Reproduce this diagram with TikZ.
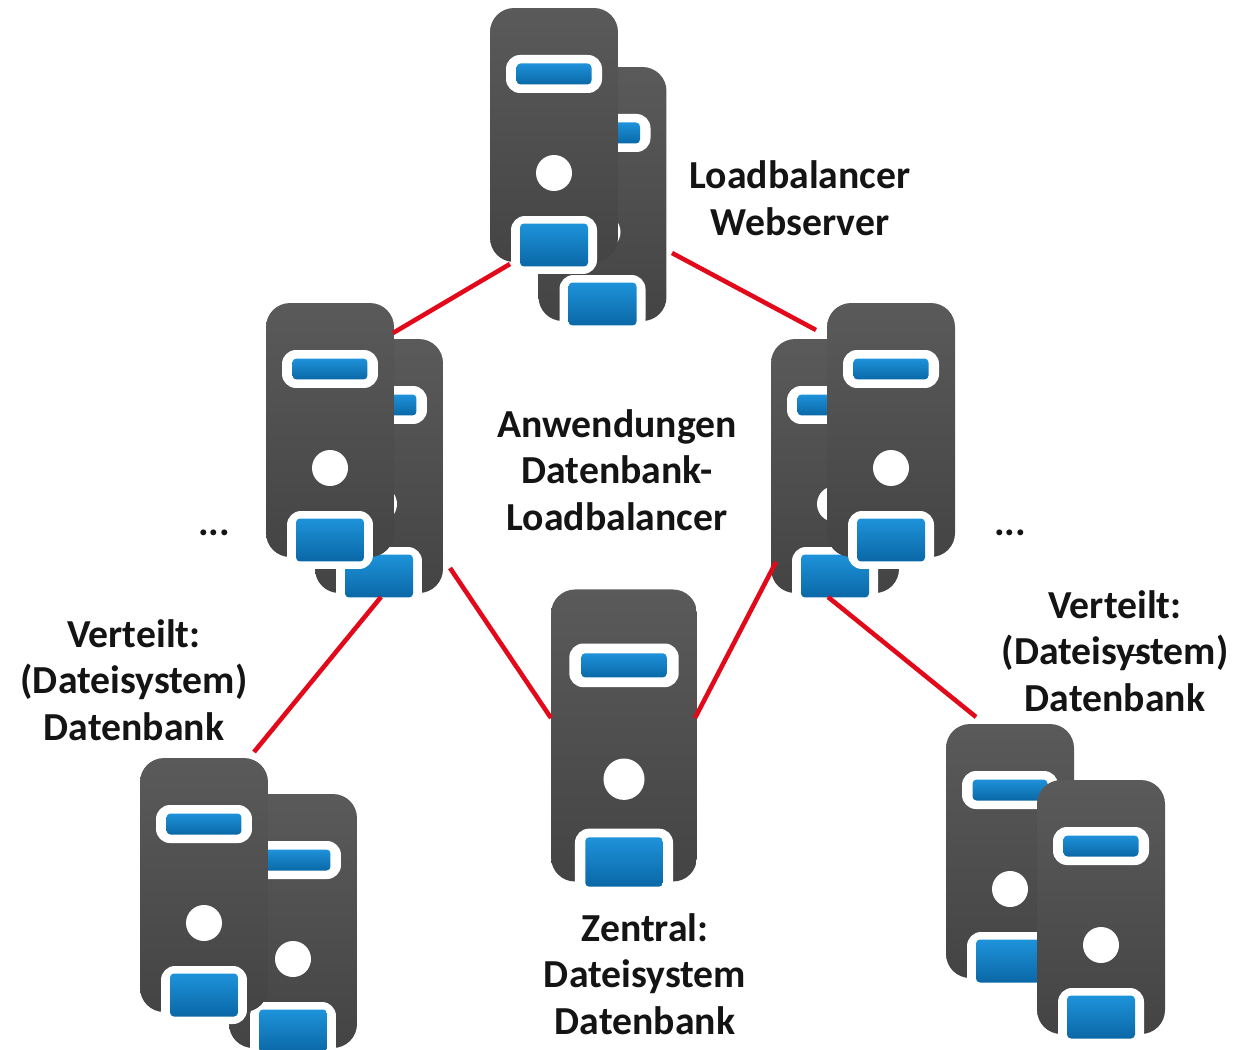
\documentclass[tikz,border=0pt]{standalone}
\usepackage{fontspec}
\setmainfont{Carlito}
\definecolor{bodytop}{HTML}{5A5A5A}
\definecolor{bodybot}{HTML}{444444}
\definecolor{bluetop}{HTML}{1E92DA}
\definecolor{bluebot}{HTML}{0A68A6}
\definecolor{linkred}{HTML}{E20A1A}
\definecolor{labelcol}{HTML}{141414}
\tikzset{
    bodybox/.style={rounded corners=0.48cm, top color=bodytop, bottom color=bodybot,
        minimum width=2.56cm, minimum height=5.08cm, inner sep=0pt, transform shape},
    whitebox/.style={fill=white, rounded corners=0.28cm, inner sep=0pt, transform shape},
    bluebox/.style={rounded corners=0.08cm, top color=bluetop, bottom color=bluebot,
        inner sep=0pt, transform shape},
    lamp/.style={circle, fill=white, minimum size=0.72cm, inner sep=0pt, transform shape},
    link/.style={draw=linkred, line width=2.6pt},
    caption/.style={font=\bfseries\fontsize{22.6}{26.6}\selectfont, text=labelcol, align=center, inner sep=0pt},
    server/.pic={
        \node [bodybox] (-body) at (0,0) {};
        \node [whitebox, minimum width=1.92cm, minimum height=0.76cm] (-pill) at (0,-61) {};
        \node [bluebox, minimum width=1.5cm, minimum height=0.42cm] (-slot) at (0,-61) {};
        \node [lamp] (-lamp) at (0,38) {};
        \node [whitebox, minimum width=1.72cm, minimum height=1.16cm] (-btn) at (0,110) {};
        \node [bluebox, minimum width=1.36cm, minimum height=0.86cm] (-key) at (0,110) {};
    }
}
\begin{document}
\begin{tikzpicture}[x=0.02cm, y=-0.02cm]
    \useasboundingbox (0,0) rectangle (1253,1050);

    % servers, back one first
    \pic (topback) at (602.5,194) {server};
    \pic (topfront) at (554,135) {server};
    \pic (leftback) at (379,466) {server};
    \pic (leftfront) at (330,430) {server};
    \pic (rightback) at (835,466) {server};
    \pic (rightfront) at (891,430) {server};
    \pic (lowleftback) at (293,921) {server};
    \pic (lowleftfront) at (204,885) {server};
    \pic (lowrightback) at (1010,851) {server};
    \pic (lowrightfront) at (1101,907) {server};
    \pic [xscale=1.14, yscale=1.15] (central) at (624,735.5) {server};

    % line ends
    \coordinate (topL) at (510,264);
    \coordinate (topR) at (672,253);
    \coordinate (leftT) at (393,333);
    \coordinate (leftB) at (381,597);
    \coordinate (leftC) at (450,568);
    \coordinate (rightT) at (816,330);
    \coordinate (rightC) at (776,562);
    \coordinate (rightB) at (828,597);
    \coordinate (lowleftT) at (254,752);
    \coordinate (lowrightT) at (976,717);
    \coordinate (centralL) at (551,718);
    \coordinate (centralR) at (695,718);

    \draw [link] (topL) -- (leftT);
    \draw [link] (topR) -- (rightT);
    \draw [link] (leftB) -- (lowleftT);
    \draw [link] (leftC) -- (centralL);
    \draw [link] (rightC) -- (centralR);
    \draw [link] (rightB) -- (lowrightT);

    % labels
    \node [caption] (lbweb) at (800,198) {Loadbalancer\\Webserver};
    \node [caption] (apps) at (617,470) {Anwendungen\\Datenbank-\\Loadbalancer};
    \node [caption] (dotsL) at (214,533) {...};
    \node [caption] (dotsR) at (1010,533) {...};
    \node [caption] (distL) at (134,680) {Verteilt:\\(Dateisystem)\\Datenbank};
    \node [caption] (distR) at (1115,651) {Verteilt:\\(Dateisystem)\\Datenbank};
    \node [caption] (centre) at (645,974) {Zentral:\\Dateisystem\\Datenbank};
    \draw [labelcol, line width=1pt] (1127,655) -- (1146,655);
\end{tikzpicture}
\end{document}
